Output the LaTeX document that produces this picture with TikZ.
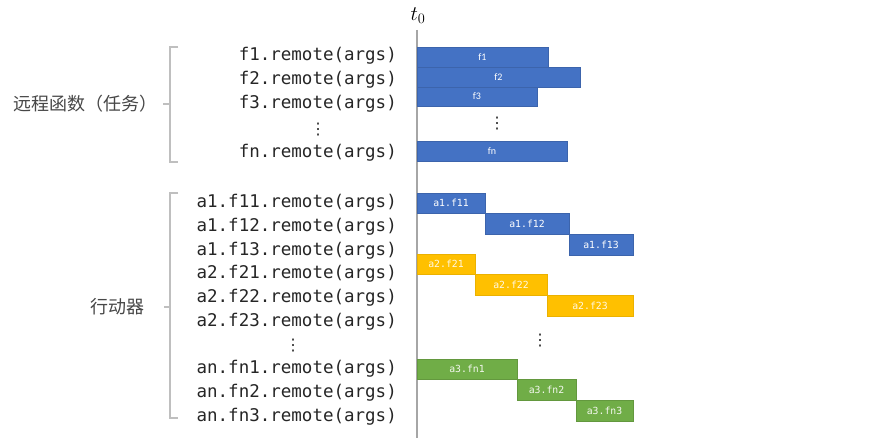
\documentclass[tikz,border=0pt]{standalone}
\usepackage{fontspec}
\setmonofont{DejaVu Sans Mono}
\setsansfont{Carlito}
\newfontfamily\cjk{Noto Sans CJK SC}
\newfontfamily\dejavu{DejaVu Sans}
\definecolor{obar}{HTML}{4472C4}
\definecolor{ybar}{HTML}{FFC000}
\definecolor{gbar}{HTML}{70AD47}
\definecolor{brkc}{HTML}{BFBFBF}
\definecolor{axc}{HTML}{A6A6A6}
\definecolor{txt}{HTML}{262626}
\tikzset{
  code/.style={anchor=east, inner sep=0pt, text=txt, font=\fontsize{17.5}{20}\selectfont\ttfamily},
  grp/.style={anchor=east, inner sep=0pt, text=txt!85, font=\fontsize{18}{20}\selectfont\cjk},
  vdot/.style={inner sep=0pt, text=txt, font=\fontsize{16}{18}\selectfont\dejavu},
  barbase/.style={anchor=north west, inner sep=0pt, outer sep=0pt, draw, line width=0.4pt, text=white},
  bluebar/.style={barbase, fill=obar, draw=obar!88!black, font=\fontsize{10}{11}\selectfont\sffamily},
  bluecode/.style={barbase, fill=obar, draw=obar!88!black, font=\fontsize{9.8}{11}\selectfont\ttfamily},
  yelcode/.style={barbase, fill=ybar, draw=ybar!92!black, text=white!90!ybar, font=\fontsize{9.8}{11}\selectfont\ttfamily},
  grncode/.style={barbase, fill=gbar, draw=gbar!88!black, text=white!92!gbar, font=\fontsize{9.8}{11}\selectfont\ttfamily},
  brk/.style={draw=brkc, line width=1.1pt},
  axisline/.style={draw=axc, line width=1.3pt},
}
\newcommand\mkbar[7]{\node[#2, minimum width={(#5-#3)*1pt}, minimum height={(#6-#4)*1pt}] (#1) at (#3,#4) {#7};}
\begin{document}
\begin{tikzpicture}[x=1pt,y=-1pt]
\useasboundingbox[fill=white] (0,0) rectangle (880,438);
% axis
\node[inner sep=0pt, font=\fontsize{21}{23}\selectfont] (t0) at (418,16) {$t_0$};
\coordinate (axtop) at (417,30);
\coordinate (axbot) at (417,438);
\draw[axisline] (axtop) -- (axbot);
% group labels and brackets
\node[grp] (g1) at (158,104) {远程函数（任务）};
\coordinate (b1a) at (178,47);
\coordinate (b1b) at (170,47);
\coordinate (b1c) at (170,162);
\coordinate (b1d) at (178,162);
\coordinate (b1m) at (170,104);
\coordinate (b1t) at (163,104);
\draw[brk] (b1a) -- (b1b) -- (b1c) -- (b1d);
\draw[brk] (b1m) -- (b1t);
\node[grp] (g2) at (145,307) {行动器};
\coordinate (b2a) at (178,193);
\coordinate (b2b) at (170,193);
\coordinate (b2c) at (170,418);
\coordinate (b2d) at (178,418);
\coordinate (b2m) at (170,307);
\coordinate (b2t) at (164,307);
\draw[brk] (b2a) -- (b2b) -- (b2c) -- (b2d);
\draw[brk] (b2m) -- (b2t);
% code lines, tasks
\node[code] (c1) at (397,56) {f1.remote(args)};
\node[code] (c2) at (397,80) {f2.remote(args)};
\node[code] (c3) at (397,104) {f3.remote(args)};
\node[vdot] (cd1) at (318,130) {⋮};
\node[code] (cn) at (397,153) {fn.remote(args)};
% code lines, actors
\node[code] (a11) at (397,203) {a1.f11.remote(args)};
\node[code] (a12) at (397,227) {a1.f12.remote(args)};
\node[code] (a13) at (397,251) {a1.f13.remote(args)};
\node[code] (a21) at (397,274) {a2.f21.remote(args)};
\node[code] (a22) at (397,298) {a2.f22.remote(args)};
\node[code] (a23) at (397,322) {a2.f23.remote(args)};
\node[vdot] (cd2) at (293,346) {⋮};
\node[code] (an1) at (397,369) {an.fn1.remote(args)};
\node[code] (an2) at (397,393) {an.fn2.remote(args)};
\node[code] (an3) at (397,417) {an.fn3.remote(args)};
% task bars
\mkbar{bf1}{bluebar}{417}{47}{548}{67}{f1}
\mkbar{bf2}{bluebar}{417}{67}{580}{87}{f2}
\mkbar{bf3}{bluebar}{417}{87}{537}{106}{f3}
\node[vdot] (bd1) at (497,124) {⋮};
\mkbar{bfn}{bluebar}{417}{141}{567}{161}{fn}
% actor bars
\mkbar{ba11}{bluecode}{417}{193}{485}{213}{a1.f11}
\mkbar{ba12}{bluecode}{485}{213}{569}{234}{a1.f12}
\mkbar{ba13}{bluecode}{569}{234}{633}{255}{a1.f13}
\mkbar{ba21}{yelcode}{417}{254}{475}{274}{a2.f21}
\mkbar{ba22}{yelcode}{475}{274}{547}{295}{a2.f22}
\mkbar{ba23}{yelcode}{547}{295}{633}{316}{a2.f23}
\node[vdot] (bd2) at (540,341) {⋮};
\mkbar{ban1}{grncode}{417}{359}{517}{379}{a3.fn1}
\mkbar{ban2}{grncode}{517}{379}{576}{400}{a3.fn2}
\mkbar{ban3}{grncode}{576}{400}{633}{421}{a3.fn3}
\end{tikzpicture}
\end{document}
